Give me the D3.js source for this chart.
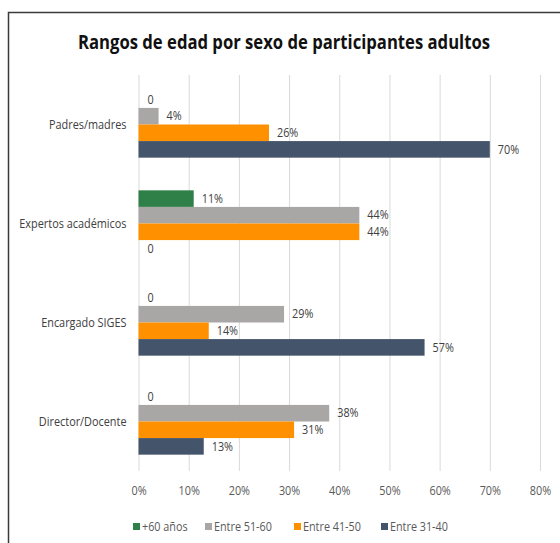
<!DOCTYPE html>
<html>
<head>
<meta charset="utf-8">
<script src="https://cdn.jsdelivr.net/npm/d3@7"></script>
<style>
  body { margin: 0; background: #fff; }
  text { font-family: "Open Sans", "Noto Sans", sans-serif; fill: #404040; }
</style>
</head>
<body>
<div id="chart"></div>
<script>
const categories = ["Padres/madres", "Expertos académicos", "Encargado SIGES", "Director/Docente"];
const seriesNames = ["+60 años", "Entre 51-60", "Entre 41-50", "Entre 31-40"];
const seriesColors = ["#2e7f48", "#a9a6a6", "#ff9000", "#44546a"];
const mas60 = [0, 11, 0, 0];
const entre5160 = [4, 44, 29, 38];
const entre4150 = [26, 44, 14, 31];
const entre3140 = [70, 0, 57, 13];
const xTicks = [0, 10, 20, 30, 40, 50, 60, 70, 80];

const allSeries = [mas60, entre5160, entre4150, entre3140];

const W = 560, H = 543;
const margin = { top: 75, right: 20, bottom: 72, left: 138.5 };
const width = 540 - margin.left;
const height = H - margin.top - margin.bottom;

// squeeze text a little to mimic the narrow original font
function narrow(sel, k) {
  sel.each(function () {
    const len = this.getComputedTextLength();
    d3.select(this).attr("textLength", len * k).attr("lengthAdjust", "spacingAndGlyphs");
  });
}

const svg = d3.select("#chart").append("svg")
  .attr("width", W).attr("height", H);

// frame
svg.append("path")
  .attr("d", `M8.5,${H} V12.5 H${W}`)
  .attr("fill", "none").attr("stroke", "#3a3a3a").attr("stroke-width", 1.5);

svg.append("text")
  .attr("x", 284).attr("y", 49)
  .attr("text-anchor", "middle")
  .style("font-size", "19px").style("font-weight", "bold")
  .style("fill", "#111")
  .attr("textLength", 412).attr("lengthAdjust", "spacingAndGlyphs")
  .text("Rangos de edad por sexo de participantes adultos");

const g = svg.append("g").attr("transform", `translate(${margin.left},${margin.top})`);

const x = d3.scaleLinear().domain([0, 80]).range([0, width]);
const y = d3.scaleBand().domain(categories).range([0, height]).paddingInner(0.33).paddingOuter(0.165);
const y1 = d3.scaleBand().domain(seriesNames).range([0, y.bandwidth()]);

// gridlines
g.append("g")
  .call(d3.axisBottom(x).tickValues(xTicks).tickSize(height).tickFormat(""))
  .call(s => s.select(".domain").remove())
  .call(s => s.selectAll("line").attr("stroke", "#d9d9d9").attr("stroke-width", 1));

// x axis labels
g.append("g")
  .attr("transform", `translate(0,${height})`)
  .call(d3.axisBottom(x).tickValues(xTicks).tickSize(0).tickPadding(15).tickFormat(d => d + "%"))
  .call(s => s.select(".domain").remove())
  .call(s => s.selectAll("text").style("font-size", "12px").style("fill", "#595959").call(narrow, 0.9));

// y axis labels
g.append("g")
  .call(d3.axisLeft(y).tickSize(0).tickPadding(12))
  .call(s => s.select(".domain").remove())
  .call(s => s.selectAll("text").style("font-size", "12.5px").style("fill", "#404040").call(narrow, 0.87));

const rows = [];
categories.forEach((c, i) => {
  seriesNames.forEach((s, j) => {
    rows.push({ cat: c, series: s, value: allSeries[j][i], color: seriesColors[j] });
  });
});

const groups = g.selectAll(".bar")
  .data(rows).enter().append("g")
  .attr("transform", d => `translate(0,${y(d.cat) + y1(d.series)})`);

groups.append("rect")
  .attr("x", 0)
  .attr("y", 0)
  .attr("width", d => x(d.value))
  .attr("height", y1.bandwidth())
  .attr("fill", d => d.color);

groups.append("text")
  .attr("x", d => x(d.value) + (d.value === 0 ? 9 : 8))
  .attr("y", y1.bandwidth() / 2)
  .attr("dy", "0.35em")
  .style("font-size", "12px")
  .style("fill", "#404040")
  .text(d => d.value === 0 ? "0" : d.value + "%")
  .call(narrow, 0.9);

// legend
const legendX = [133, 205, 294, 381];
const legend = svg.append("g").attr("transform", "translate(0,527)");
const items = legend.selectAll("g").data(seriesNames).enter().append("g")
  .attr("transform", (d, i) => `translate(${legendX[i]},0)`);
items.append("rect")
  .attr("x", 0).attr("y", -4).attr("width", 7).attr("height", 7)
  .attr("fill", (d, i) => seriesColors[i]);
items.append("text")
  .attr("x", 9).attr("y", 0).attr("dy", "0.35em")
  .style("font-size", "12px").style("fill", "#595959")
  .text(d => d)
  .call(narrow, 0.9);
</script>
</body>
</html>
